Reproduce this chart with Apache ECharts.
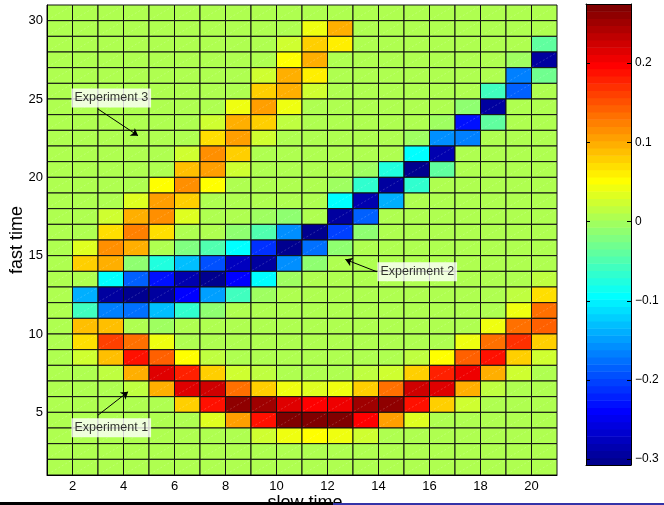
<!DOCTYPE html>
<html>
<head>
<meta charset="utf-8">
<script src="https://cdn.jsdelivr.net/npm/echarts@6/dist/echarts.min.js"></script>
<style>
  html, body { margin: 0; padding: 0; background: #fff; }
  #chart { width: 664px; height: 505px; }
</style>
</head>
<body>
<div id="chart"></div>
<script>
// background level of the map
const B = 0.006;

// cell lower-left corners
const slowTime = [1, 2, 3, 4, 5, 6, 7, 8, 9, 10, 11, 12, 13, 14, 15, 16, 17, 18, 19, 20];
// rows listed top to bottom
const fastTime = [30, 29, 28, 27, 26, 25, 24, 23, 22, 21, 20, 19, 18, 17, 16, 15, 14, 13, 12, 11, 10, 9, 8, 7, 6, 5, 4, 3, 2, 1];

const cellValues = [
  [B, B, B, B, B, B, B, B, B, B, B, B, B, B, B, B, B, B, B, B],
  [B, B, B, B, B, B, B, B, B, B, 0.043, 0.097, B, B, B, B, B, B, B, B],
  [B, B, B, B, B, B, B, B, B, 0.024, 0.079, 0.061, B, B, B, B, B, B, B, -0.039],
  [B, B, B, B, B, B, B, B, B, 0.052, 0.093, B, B, B, B, B, B, B, -0.003, -0.294],
  [B, B, B, B, B, B, B, B, 0.029, 0.093, 0.061, B, B, B, B, B, B, B, -0.167, -0.030],
  [B, B, B, B, B, B, B, B, 0.079, 0.097, 0.029, B, B, B, B, B, B, -0.057, -0.185, B],
  [B, B, B, B, B, B, B, 0.043, 0.106, 0.043, B, B, B, B, B, B, -0.016, -0.294, B, B],
  [B, B, B, B, B, B, 0.024, 0.093, 0.079, 0.015, B, B, B, B, B, -0.007, -0.230, -0.039, B, B],
  [B, B, B, B, B, B, 0.066, 0.102, 0.029, B, B, B, B, B, -0.003, -0.158, -0.167, B, B, B],
  [B, B, B, B, B, 0.029, 0.111, 0.075, B, B, B, B, B, B, -0.094, -0.285, B, B, B, B],
  [B, B, B, B, B, 0.088, 0.102, 0.029, B, B, B, B, -0.007, -0.076, -0.303, -0.035, B, B, B, B],
  [B, B, B, B, 0.052, 0.120, 0.052, B, B, B, B, -0.007, -0.062, -0.294, -0.071, B, B, B, B, B],
  [B, B, B, 0.038, 0.106, 0.079, B, B, B, B, 0.002, -0.094, -0.285, -0.139, B, B, B, B, B, B],
  [B, B, 0.020, 0.093, 0.115, 0.038, B, B, -0.003, -0.016, 0.002, -0.294, -0.185, B, B, B, B, B, B, B],
  [B, B, 0.070, 0.124, 0.070, B, 0.002, -0.012, -0.048, -0.158, -0.303, -0.203, -0.012, B, B, B, B, B, B, B],
  [B, 0.038, 0.115, 0.093, 0.002, -0.021, -0.048, -0.094, -0.212, -0.303, -0.180, -0.016, B, B, B, B, B, B, B, B],
  [B, 0.075, 0.097, -0.016, -0.076, -0.126, -0.194, -0.276, -0.294, -0.158, -0.012, B, B, B, B, B, B, B, B, B],
  [B, B, -0.098, -0.185, -0.226, -0.285, -0.299, -0.239, -0.098, -0.007, B, B, B, B, B, B, B, B, B, 0.015],
  [B, -0.139, -0.294, -0.303, -0.294, -0.239, -0.148, -0.057, -0.007, B, B, B, B, B, B, B, B, B, 0.015, 0.070],
  [B, -0.057, -0.167, -0.176, -0.126, -0.066, -0.016, B, B, B, B, B, B, B, B, B, B, B, 0.043, 0.134],
  [B, 0.084, 0.084, B, -0.007, B, B, B, B, B, B, B, B, B, B, B, B, 0.043, 0.134, 0.143],
  [B, 0.070, 0.161, 0.134, 0.043, B, B, B, B, B, B, B, B, B, B, B, 0.043, 0.134, 0.170, 0.079],
  [B, 0.020, 0.088, 0.188, 0.143, 0.052, 0.015, B, B, B, B, B, B, B, 0.015, 0.052, 0.143, 0.188, 0.079, 0.020],
  [B, B, 0.015, 0.093, 0.216, 0.179, 0.079, 0.024, 0.011, B, B, B, 0.015, 0.024, 0.075, 0.175, 0.206, 0.093, 0.020, B],
  [B, B, B, 0.015, 0.097, 0.216, 0.225, 0.134, 0.079, 0.043, 0.034, 0.043, 0.079, 0.134, 0.225, 0.220, 0.093, 0.015, B, B],
  [B, B, B, B, B, 0.075, 0.188, 0.261, 0.252, 0.215, 0.193, 0.206, 0.252, 0.261, 0.188, 0.075, 0.020, B, B, B],
  [B, B, B, B, B, B, 0.034, 0.106, 0.188, 0.266, 0.272, 0.266, 0.193, 0.106, 0.034, B, B, B, B, B],
  [B, B, B, B, B, B, B, B, 0.024, 0.043, 0.052, 0.043, 0.024, B, B, B, B, B, B, B],
  [B, B, B, B, B, B, B, B, B, B, B, B, B, B, B, B, B, B, B, B],
  [B, B, B, B, B, B, B, B, B, B, B, B, B, B, B, B, B, B, B, B]
];

const xTickLabels = [2, 4, 6, 8, 10, 12, 14, 16, 18, 20];
const yTickLabels = [5, 10, 15, 20, 25, 30];
const colorbarTicks = [-0.3, -0.2, -0.1, 0, 0.1, 0.2];
const colorLimits = [-0.3076, 0.2747];

const annotationText = ['Experiment 3', 'Experiment 2', 'Experiment 1'];
const annotationAt = [[3.52, 25.07], [15.52, 13.97], [3.52, 4.01]];
const arrowFrom = [[3.0, 24.36], [13.94, 13.97], [3.0, 4.82]];
const arrowTo = [[4.57, 22.66], [12.70, 14.76], [4.18, 6.31]];

const FONT = 'Liberation Sans, Arial, sans-serif';

// MATLAB jet(64)
const jet = [];
for (let i = 1; i <= 64; i++) {
  const r = i <= 24 ? 0 : i <= 40 ? (i - 24) / 16 : i <= 56 ? 1 : 1 - (i - 56) / 16;
  const g = i <= 8 ? 0 : i <= 24 ? (i - 8) / 16 : i <= 40 ? 1 : i <= 56 ? 1 - (i - 40) / 16 : 0;
  const b = i <= 8 ? (i + 8) / 16 : i <= 24 ? 1 : i <= 40 ? 1 - (i - 24) / 16 : 0;
  jet.push('rgb(' + Math.round(r * 255) + ',' + Math.round(g * 255) + ',' + Math.round(b * 255) + ')');
}

const colorFor = (v) => {
  const span = colorLimits[1] - colorLimits[0];
  let k = Math.floor((v - colorLimits[0]) / span * 64);
  k = Math.max(0, Math.min(63, k));
  return jet[k];
};

const cells = [];
fastTime.forEach((y, r) => {
  slowTime.forEach((x, c) => {
    cells.push([x, y, cellValues[r][c]]);
  });
});

const bands = jet.map((_, k) => [k]);

const chart = echarts.init(document.getElementById('chart'));

const frameAxis = { show: true, onZero: false, lineStyle: { color: '#000' } };

chart.setOption({
  animation: false,
  grid: [
    { left: 47, top: 5, width: 510, height: 470, outerBoundsMode: 'none', containLabel: false },
    { left: 586, top: 4, width: 45, height: 461, outerBoundsMode: 'none', containLabel: false }
  ],
  xAxis: [
    {
      gridIndex: 0, type: 'value', min: 1, max: 21, interval: 1, z: 5,
      axisLine: frameAxis,
      axisTick: { show: false },
      splitLine: { show: false },
      axisLabel: {
        color: '#000', fontSize: 13, fontFamily: FONT, margin: 5,
        formatter: (v) => xTickLabels.includes(v) ? String(v) : ''
      },
      name: 'slow time', nameLocation: 'middle', nameGap: 19, nameMoveOverlap: false,
      nameTextStyle: { color: '#000', fontSize: 18, fontFamily: FONT, padding: [0, 0, 0, 6] }
    },
    {
      gridIndex: 1, type: 'value', min: 0, max: 1, position: 'bottom', z: 10,
      axisLine: frameAxis,
      axisTick: { show: false }, axisLabel: { show: false }, splitLine: { show: false }
    },
    {
      gridIndex: 1, type: 'value', min: 0, max: 1, position: 'top', z: 10,
      axisLine: frameAxis,
      axisTick: { show: false }, axisLabel: { show: false }, splitLine: { show: false }
    }
  ],
  yAxis: [
    {
      gridIndex: 0, type: 'value', min: 1, max: 31, interval: 1, z: 5,
      axisLine: frameAxis,
      axisTick: { show: false },
      splitLine: { show: false },
      axisLabel: {
        color: '#000', fontSize: 13, fontFamily: FONT, margin: 4,
        formatter: (v) => yTickLabels.includes(v) ? String(v) : ''
      },
      name: 'fast time', nameLocation: 'middle', nameGap: 21, nameRotate: 90, nameMoveOverlap: false,
      nameTextStyle: { color: '#000', fontSize: 18, fontFamily: FONT }
    },
    {
      gridIndex: 1, type: 'value', min: colorLimits[0], max: colorLimits[1], position: 'right', z: 10,
      axisLine: frameAxis,
      axisTick: { show: false },
      splitLine: { show: false },
      axisLabel: {
        color: '#000', fontSize: 12, fontFamily: FONT, margin: 4,
        customValues: colorbarTicks,
        formatter: (v) => v === 0 ? '0' : (v < 0 ? '\u2212' + Math.abs(v).toFixed(1) : v.toFixed(1))
      }
    },
    {
      gridIndex: 1, type: 'value', min: colorLimits[0], max: colorLimits[1], position: 'left', z: 10,
      axisLine: frameAxis,
      axisTick: { show: false },
      splitLine: { show: false },
      axisLabel: { show: false }
    }
  ],
  series: [
    {
      type: 'custom',
      xAxisIndex: 0, yAxisIndex: 0,
      data: cells,
      encode: { x: 0, y: 1 },
      renderItem: (params, api) => {
        const x = api.value(0);
        const y = api.value(1);
        const p0 = api.coord([x, y + 1]);
        const p1 = api.coord([x + 1, y]);
        return {
          type: 'group',
          children: [
            {
              type: 'rect',
              shape: { x: p0[0], y: p0[1], width: p1[0] - p0[0], height: p1[1] - p0[1] },
              style: { fill: colorFor(api.value(2)), stroke: '#111', lineWidth: 1 }
            },
            {
              type: 'line',
              shape: { x1: p0[0] + 1, y1: p1[1] - 1, x2: p1[0] - 1, y2: p0[1] + 1 },
              style: { stroke: 'rgba(255,255,255,0.3)', lineWidth: 0.6, lineDash: [2, 2] }
            }
          ]
        };
      }
    },
    {
      type: 'custom',
      xAxisIndex: 1, yAxisIndex: 1,
      z: 1,
      data: bands,
      renderItem: (params, api) => {
        const k = api.value(0);
        const span = colorLimits[1] - colorLimits[0];
        const lo = colorLimits[0] + k / 64 * span;
        const hi = colorLimits[0] + (k + 1) / 64 * span;
        const p0 = api.coord([0, hi]);
        const p1 = api.coord([1, lo]);
        return {
          type: 'rect',
          shape: { x: p0[0], y: p0[1], width: p1[0] - p0[0], height: p1[1] - p0[1] + 0.5 },
          style: { fill: jet[k] }
        };
      }
    },
    {
      // inward tick marks on both sides of the colour bar
      type: 'custom',
      xAxisIndex: 1, yAxisIndex: 1,
      z: 12,
      silent: true,
      data: colorbarTicks.map((v) => [v]),
      renderItem: (params, api) => {
        const pl = api.coord([0, api.value(0)]);
        const pr = api.coord([1, api.value(0)]);
        const y = Math.round(pl[1]) + 0.5;
        return {
          type: 'group',
          children: [
            { type: 'line', shape: { x1: pl[0], y1: y, x2: pl[0] + 4, y2: y }, style: { stroke: '#000', lineWidth: 1 } },
            { type: 'line', shape: { x1: pr[0] - 4, y1: y, x2: pr[0], y2: y }, style: { stroke: '#000', lineWidth: 1 } }
          ]
        };
      }
    },
    {
      type: 'lines',
      coordinateSystem: 'cartesian2d',
      xAxisIndex: 0, yAxisIndex: 0,
      z: 10,
      silent: true,
      symbol: ['none', 'arrow'],
      symbolSize: 7,
      lineStyle: { color: '#000', width: 1, opacity: 1 },
      data: arrowFrom.map((f, i) => ({ coords: [f, arrowTo[i]] }))
    },
    {
      type: 'scatter',
      xAxisIndex: 0, yAxisIndex: 0,
      z: 11,
      silent: true,
      symbolSize: 1,
      itemStyle: { color: 'rgba(0,0,0,0)' },
      data: annotationAt.map((p, i) => [p[0], p[1], annotationText[i]]),
      label: {
        show: true, position: 'inside',
        formatter: (p) => p.data[2],
        color: '#000', fontSize: 12.5, fontFamily: FONT,
        backgroundColor: '#fff', padding: [3, 3, 3, 3]
      }
    }
  ],
  graphic: [
    { type: 'rect', left: 0, top: 502, z: 100, shape: { width: 333, height: 3 }, style: { fill: '#000' } },
    { type: 'rect', left: 333, top: 503, z: 100, shape: { width: 331, height: 2 }, style: { fill: '#3434a8' } }
  ]
});

window.addEventListener('resize', () => chart.resize());
</script>
</body>
</html>
